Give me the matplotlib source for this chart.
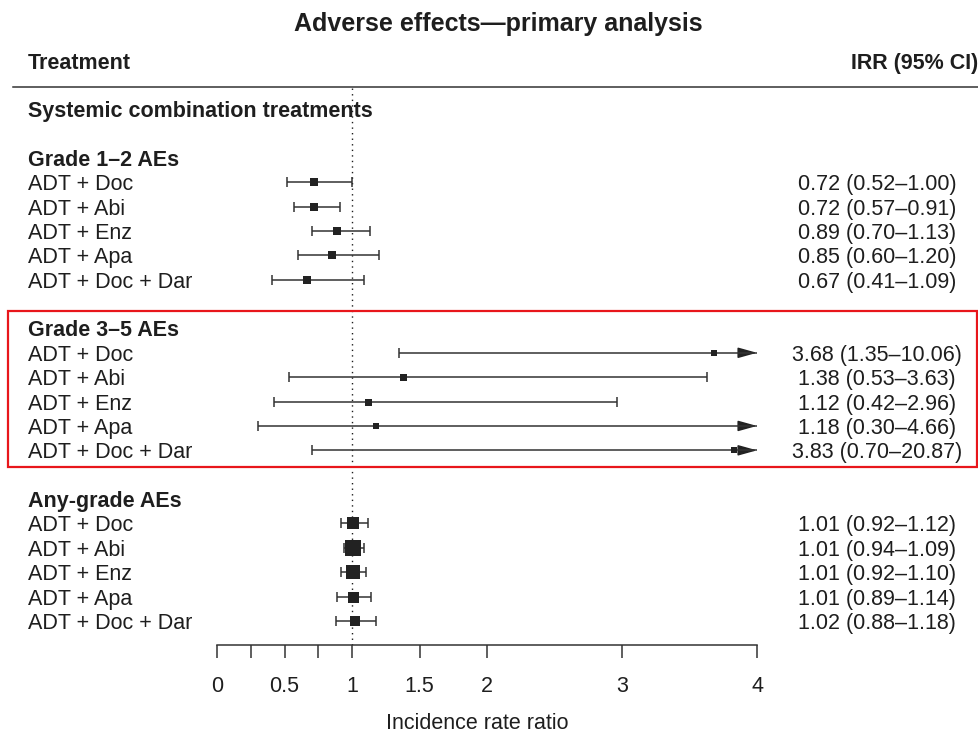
import matplotlib
matplotlib.use("Agg")
import matplotlib.pyplot as plt
from matplotlib.patches import Rectangle, FancyArrowPatch
from matplotlib.lines import Line2D
from matplotlib.transforms import blended_transform_factory

plt.rcParams['font.family'] = ['Liberation Sans', 'DejaVu Sans']

W, H = 979, 735
TXT = '#1e1e1e'
LINE = '#333333'
FS = 15.5
TY = 2.5  # text sits a little lower than its row centre

treatments = ["ADT + Doc", "ADT + Abi", "ADT + Enz", "ADT + Apa", "ADT + Doc + Dar"]

# incidence rate ratios with 95% CI, by AE grade
g12_irr = [0.72, 0.72, 0.89, 0.85, 0.67]
g12_lo = [0.52, 0.57, 0.70, 0.60, 0.41]
g12_hi = [1.00, 0.91, 1.13, 1.20, 1.09]

g35_irr = [3.68, 1.38, 1.12, 1.18, 3.83]
g35_lo = [1.35, 0.53, 0.42, 0.30, 0.70]
g35_hi = [10.06, 3.63, 2.96, 4.66, 20.87]

any_irr = [1.01, 1.01, 1.01, 1.01, 1.02]
any_lo = [0.92, 0.94, 0.92, 0.89, 0.88]
any_hi = [1.12, 1.09, 1.10, 1.14, 1.18]

groups = ["Grade 1–2 AEs", "Grade 3–5 AEs", "Any-grade AEs"]

xticks = [0, 0.25, 0.5, 0.75, 1, 1.5, 2, 3, 4]
xticklabels = ["0", "", "0.5", "", "1", "1.5", "2", "3", "4"]

# square sizes (px) - study weights
g12_size = [8, 8.5, 8.5, 8.5, 7.5]
g35_size = [5.5, 7, 7, 6, 5.5]
any_size = [12, 16, 13.5, 11, 10]

XMAX = 4


def fx(px):
    return px / W


def fy(py):
    return 1 - py / H


fig = plt.figure(figsize=(W / 100, H / 100), dpi=100)
# plotting axes: x in IRR units, y in pixel rows (top = 88, axis at 645)
ax = fig.add_axes([fx(217), fy(645), fx(757) - fx(217), fy(88) - fy(645)])
ax.set_xlim(0, XMAX)
ax.set_ylim(645, 88)
ax.patch.set_alpha(0)
for s in ['top', 'right', 'left']:
    ax.spines[s].set_visible(False)
ax.spines['bottom'].set_color(LINE)
ax.spines['bottom'].set_linewidth(1.1)
ax.set_yticks([])
ax.set_xticks(xticks)
ax.set_xticklabels(xticklabels)
ax.tick_params(axis='x', length=9.5, width=1.1, color=LINE, pad=13,
               labelsize=FS, labelcolor=TXT)
ax.set_xlabel("Incidence rate ratio", fontsize=FS, color=TXT)
ax.xaxis.set_label_coords((477 - 217) / 540, -0.122)

ax.axvline(1, color=TXT, lw=1, linestyle=(0, (1, 3)))

lab = blended_transform_factory(fig.transFigure, ax.transData)


def row_y(k):
    return 109 + k * 24.38


def draw_row(y, irr, lo, hi, size):
    top = min(hi, XMAX)
    ax.plot([lo, top], [y, y], color=LINE, lw=1.1, solid_capstyle='butt')
    ax.plot([lo], [y], marker='|', color=LINE, markersize=6.8, mew=1.1)
    if hi > XMAX:
        arr = FancyArrowPatch((XMAX - 0.13, y), (XMAX, y),
                              arrowstyle='-|>,head_length=1.15,head_width=0.32',
                              mutation_scale=10, color='#222222', lw=1.1,
                              shrinkA=0, shrinkB=0)
        ax.add_patch(arr)
    else:
        ax.plot([hi], [y], marker='|', color=LINE, markersize=6.8, mew=1.1)
    ax.plot([irr], [y], marker='s', color='#222222', markersize=size * 0.72,
            markeredgewidth=0)


# header
fig.text(fx(498), fy(22 + TY), "Adverse effects—primary analysis", ha='center',
         va='center', fontsize=18, fontweight='bold', color=TXT)
fig.text(fx(28), fy(61 + TY), "Treatment", ha='left', va='center', fontsize=FS,
         fontweight='bold', color=TXT)
fig.text(fx(978), fy(61 + TY), "IRR (95% CI)", ha='right', va='center',
         fontsize=FS, fontweight='bold', color=TXT)
fig.add_artist(Line2D([fx(13), fx(979)], [fy(87), fy(87)], color=LINE, lw=1.1,
                      transform=fig.transFigure))

ax.text(fx(28), row_y(0) + TY, "Systemic combination treatments", transform=lab,
        ha='left', va='center', fontsize=FS, fontweight='bold', color=TXT)

blocks = [
    (g12_irr, g12_lo, g12_hi, g12_size, 2),
    (g35_irr, g35_lo, g35_hi, g35_size, 9),
    (any_irr, any_lo, any_hi, any_size, 16),
]

for (irr, lo, hi, sizes, k0), name in zip(blocks, groups):
    ax.text(fx(28), row_y(k0) + TY, name, transform=lab, ha='left', va='center',
            fontsize=FS, fontweight='bold', color=TXT)
    for i, t in enumerate(treatments):
        y = row_y(k0 + 1 + i)
        ax.text(fx(28), y + TY, t, transform=lab, ha='left', va='center',
                fontsize=FS, color=TXT)
        ax.text(fx(877), y + TY, f"{irr[i]:.2f} ({lo[i]:.2f}–{hi[i]:.2f})",
                transform=lab, ha='center', va='center', fontsize=FS, color=TXT)
        draw_row(y, irr[i], lo[i], hi[i], sizes[i])

# highlight box around the grade 3-5 block
fig.add_artist(Rectangle((fx(8), fy(467)), fx(977) - fx(8), fy(311) - fy(467),
                         transform=fig.transFigure, fill=False,
                         edgecolor='#e8161b', lw=1.6))

fig.savefig("out.png", dpi=100)
